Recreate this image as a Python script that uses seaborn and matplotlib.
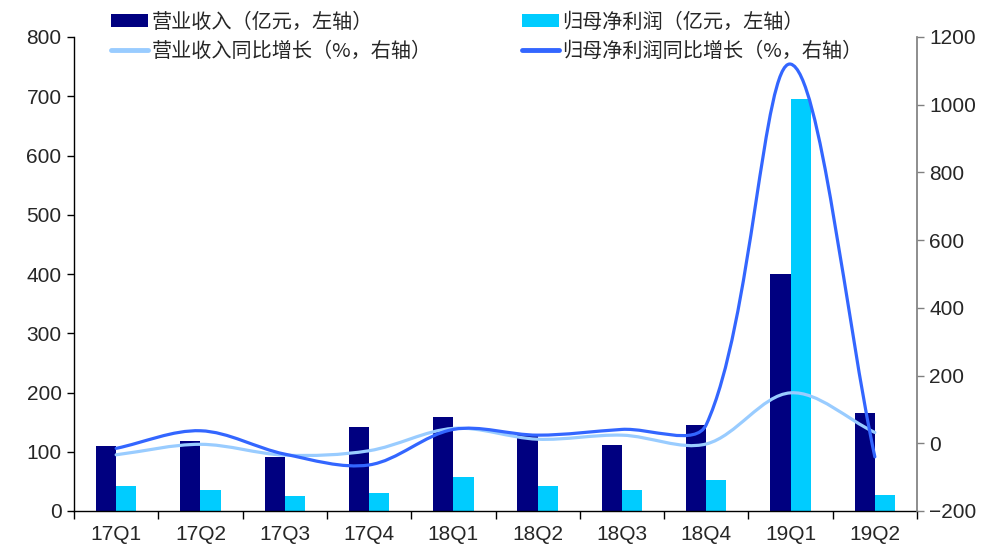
import numpy as np
import pandas as pd
import seaborn as sns
import matplotlib
matplotlib.use("Agg")
import matplotlib.pyplot as plt
from matplotlib.path import Path
from matplotlib.patches import PathPatch, Patch
from matplotlib.lines import Line2D

quarters = ["17Q1", "17Q2", "17Q3", "17Q4", "18Q1", "18Q2", "18Q3", "18Q4", "19Q1", "19Q2"]
revenue = [110, 118, 91, 142, 158, 128, 111, 145, 400, 166]
net_profit = [42, 35, 25, 30, 57, 42, 35, 53, 696, 27]
revenue_yoy = [-34, -3, -35, -22, 44, 12, 24, -2, 149, 32]
profit_yoy = [-15, 37, -32, -64, 41, 24, 41, 55, 1120, -40]

lab_rev = "营业收入（亿元，左轴）"
lab_np = "归母净利润（亿元，左轴）"
lab_rev_yoy = "营业收入同比增长（%，右轴）"
lab_np_yoy = "归母净利润同比增长（%，右轴）"

c_rev = "#000080"
c_np = "#00CCFF"
c_rev_yoy = "#99CCFF"
c_np_yoy = "#3366FF"

sns.set_theme(style="white")
plt.rcParams["font.family"] = ["Liberation Sans", "Noto Sans CJK SC", "DejaVu Sans"]

fig = plt.figure(figsize=(10.08, 5.54), dpi=100)
ax = fig.add_axes([74 / 1008, 1 - 511 / 554, 843 / 1008, 474 / 554])

df = pd.DataFrame({
    "quarter": quarters * 2,
    "value": revenue + net_profit,
    "series": [lab_rev] * len(quarters) + [lab_np] * len(quarters),
})
sns.barplot(data=df, x="quarter", y="value", hue="series", order=quarters,
            hue_order=[lab_rev, lab_np], palette=[c_rev, c_np], width=0.48,
            gap=0, saturation=1, ax=ax, legend=False, edgecolor="none")

ax.set_xlim(-0.5, len(quarters) - 0.5)
ax.set_ylim(0, 800)
ax.set_yticks(np.arange(0, 801, 100))
ax.set_xlabel("")
ax.set_ylabel("")
ax.tick_params(axis="y", labelsize=15, length=5, width=1, color="black", direction="out", left=True, pad=4)
ax.tick_params(axis="x", which="major", labelsize=15, length=0, pad=10)
ax.set_xticks(np.arange(-0.5, len(quarters)), minor=True)
ax.tick_params(axis="x", which="minor", length=6, width=1, color="black", direction="out", bottom=True)
for s in ["top", "right"]:
    ax.spines[s].set_visible(False)
ax.spines["left"].set_color("black")
ax.spines["bottom"].set_color("black")
ax.spines["left"].set_linewidth(1)
ax.spines["bottom"].set_linewidth(1)

ax2 = ax.twinx()
ax2.set_ylim(-200, 1200)
ax2.set_yticks(np.arange(-200, 1201, 200))
ax2.tick_params(axis="y", labelsize=15, length=5, width=1, color="#808080", direction="out", right=True, pad=4)
for s in ["top", "left", "bottom"]:
    ax2.spines[s].set_visible(False)
ax2.spines["right"].set_color("#808080")
ax2.grid(False)
ax.grid(False)


def smooth_path(axis, xs, ys):
    """Excel-like smoothed line: Bezier with tangents split by screen segment length."""
    data = np.column_stack([xs, ys]).astype(float)
    scr = axis.transData.transform(data)
    n = len(data)
    verts = [data[0]]
    codes = [Path.MOVETO]
    out_ctrl = [None] * n
    in_ctrl = [None] * n
    for i in range(n):
        p0 = data[i - 1] if i > 0 else data[i]
        p2 = data[i + 1] if i < n - 1 else data[i]
        s0 = scr[i - 1] if i > 0 else scr[i]
        s2 = scr[i + 1] if i < n - 1 else scr[i]
        d_in = np.hypot(*(scr[i] - s0))
        d_out = np.hypot(*(s2 - scr[i]))
        tot = d_in + d_out if d_in + d_out > 0 else 1.0
        t = (p2 - p0)
        out_ctrl[i] = data[i] + t * (d_out / tot) / 3.0
        in_ctrl[i] = data[i] - t * (d_in / tot) / 3.0
    for i in range(n - 1):
        verts += [out_ctrl[i], in_ctrl[i + 1], data[i + 1]]
        codes += [Path.CURVE4] * 3
    return Path(verts, codes)


xs = np.arange(len(quarters))
for vals, col in [(revenue_yoy, c_rev_yoy), (profit_yoy, c_np_yoy)]:
    ax2.add_patch(PathPatch(smooth_path(ax2, xs, vals), facecolor="none", edgecolor=col,
                            lw=2.3, capstyle="round", joinstyle="round"))

handles = [
    Patch(facecolor=c_rev, edgecolor="none"),
    Line2D([], [], color=c_rev_yoy, lw=3.5),
    Patch(facecolor=c_np, edgecolor="none"),
    Line2D([], [], color=c_np_yoy, lw=3.5),
]
labels = [lab_rev, lab_rev_yoy, lab_np, lab_np_yoy]
leg = fig.legend(handles, labels, ncol=2, loc="upper left", bbox_to_anchor=(101 / 1008, 0.997),
                 frameon=False, prop={"family": ["Noto Sans CJK SC", "DejaVu Sans"], "size": 14.5},
                 handlelength=1.85, handleheight=0.6, handletextpad=0.15, columnspacing=4.5,
                 labelspacing=0.4, borderaxespad=0.1)

fig.savefig("out.png", dpi=100)
